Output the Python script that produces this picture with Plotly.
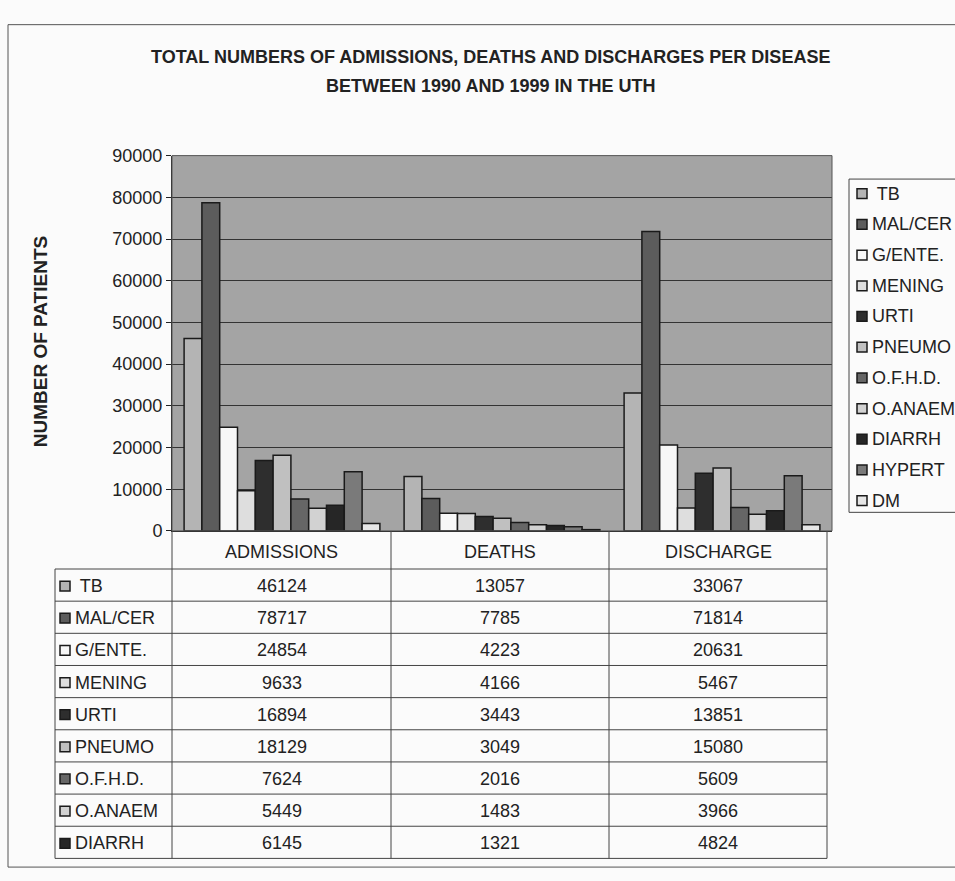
import plotly.graph_objects as go

categories = ["ADMISSIONS", "DEATHS", "DISCHARGE"]
diseases = ["TB", "MAL/CER", "G/ENTE.", "MENING", "URTI", "PNEUMO",
            "O.F.H.D.", "O.ANAEM", "DIARRH", "HYPERT", "DM"]
admissions = [46124, 78717, 24854, 9633, 16894, 18129, 7624, 5449, 6145, 14200, 1800]
deaths = [13057, 7785, 4223, 4166, 3443, 3049, 2016, 1483, 1321, 1000, 300]
discharge = [33067, 71814, 20631, 5467, 13851, 15080, 5609, 3966, 4824, 13200, 1500]
colors = ["#b4b4b4", "#5c5c5c", "#f7f7f7", "#dedede", "#2e2e2e", "#c0c0c0",
          "#666666", "#d2d2d2", "#262626", "#7a7a7a", "#e6e6e6"]
table_rows = 9  # rows visible in the data table

W, H = 955, 881
def px(x):
    return x / W
def py(y):
    return 1 - y / H

TXT = "#222"
fig = go.Figure()
for i, d in enumerate(diseases):
    fig.add_trace(go.Bar(
        x=categories, y=[admissions[i], deaths[i], discharge[i]], name=d,
        marker=dict(color=colors[i], line=dict(color="#1a1a1a", width=1.5)),
        showlegend=False,
    ))

shapes = []
annotations = []

frame = dict(color="#555", width=1)
shapes.append(dict(type="line", xref="paper", yref="paper", x0=px(8), x1=px(8), y0=py(15), y1=py(877), line=frame))
shapes.append(dict(type="line", xref="paper", yref="paper", x0=px(8), x1=1.1, y0=py(15), y1=py(15), line=frame))
shapes.append(dict(type="line", xref="paper", yref="paper", x0=px(8), x1=1.1, y0=py(877), y1=py(877), line=frame))

col_x = [172, 391, 609, 827]
lab_x0 = 55
head_top, head_bot = 533, 572
row_h = 32.9
line_style = dict(color="#444", width=1)
bottom = head_bot + table_rows * row_h
for cx in col_x:
    shapes.append(dict(type="line", xref="paper", yref="paper", x0=px(cx), x1=px(cx),
                       y0=py(head_top), y1=py(bottom), line=line_style))
shapes.append(dict(type="line", xref="paper", yref="paper", x0=px(lab_x0), x1=px(lab_x0),
                   y0=py(head_bot), y1=py(bottom), line=line_style))
for r in range(table_rows + 1):
    yy = head_bot + r * row_h
    shapes.append(dict(type="line", xref="paper", yref="paper", x0=px(lab_x0), x1=px(col_x[-1]),
                       y0=py(yy), y1=py(yy), line=line_style))

for j, c in enumerate(categories):
    annotations.append(dict(text=c, xref="paper", yref="paper",
                            x=px((col_x[j] + col_x[j + 1]) / 2), y=py((head_top + head_bot) / 2 + 2),
                            showarrow=False, font=dict(size=18, color=TXT),
                            xanchor="center", yanchor="middle"))

series = [admissions, deaths, discharge]
for r in range(table_rows):
    yc = head_bot + r * row_h + row_h / 2 + 1
    shapes.append(dict(type="rect", xref="paper", yref="paper", x0=px(60), x1=px(70),
                       y0=py(yc - 5), y1=py(yc + 5), fillcolor=colors[r],
                       line=dict(color="#1a1a1a", width=1.5)))
    annotations.append(dict(text=(" " if r == 0 else "") + diseases[r], xref="paper", yref="paper",
                            x=px(73), y=py(yc), showarrow=False,
                            font=dict(size=18, color=TXT), xanchor="left", yanchor="middle"))
    for j in range(3):
        annotations.append(dict(text=str(series[j][r]), xref="paper", yref="paper",
                                x=px((col_x[j] + col_x[j + 1]) / 2), y=py(yc), showarrow=False,
                                font=dict(size=18, color=TXT), xanchor="center", yanchor="middle"))

leg_top, leg_bot = 173, 514
shapes.append(dict(type="rect", xref="paper", yref="paper", x0=px(849), x1=1.1,
                   y0=py(leg_bot), y1=py(leg_top), line=dict(color="#444", width=1),
                   fillcolor="rgba(0,0,0,0)"))
leg_step = 31.4
for i, d in enumerate(diseases):
    yc = 188 + i * leg_step
    shapes.append(dict(type="rect", xref="paper", yref="paper", x0=px(857), x1=px(867),
                       y0=py(yc - 5), y1=py(yc + 5), fillcolor=colors[i],
                       line=dict(color="#1a1a1a", width=1.5)))
    annotations.append(dict(text=(" " if i == 0 else "") + d, xref="paper", yref="paper",
                            x=px(870), y=py(yc), showarrow=False,
                            font=dict(size=18, color=TXT), xanchor="left", yanchor="middle"))

TFONT = "Liberation Sans Narrow, Arial Narrow, Liberation Sans, Arial"
annotations.append(dict(text="<b>TOTAL NUMBERS OF ADMISSIONS, DEATHS AND DISCHARGES PER DISEASE</b>",
                        xref="paper", yref="paper", x=px(490), y=py(48), showarrow=False,
                        font=dict(size=18, color=TXT, family=TFONT),
                        xanchor="center", yanchor="middle"))
annotations.append(dict(text="<b>BETWEEN 1990 AND 1999 IN THE UTH</b>",
                        xref="paper", yref="paper", x=px(490), y=py(78), showarrow=False,
                        font=dict(size=18, color=TXT, family=TFONT),
                        xanchor="center", yanchor="middle"))
annotations.append(dict(text="<b>NUMBER OF PATIENTS</b>", xref="paper", yref="paper",
                        x=px(40), y=py(340), showarrow=False, textangle=-90,
                        font=dict(size=19, color=TXT), xanchor="center", yanchor="middle"))

fig.update_layout(
    width=W, height=H,
    margin=dict(l=0, r=0, t=0, b=0),
    paper_bgcolor="#fbfbfb",
    plot_bgcolor="#a4a4a4",
    font=dict(family="Liberation Sans, Arial, sans-serif", color=TXT, size=18),
    barmode="group",
    bargap=0.11,
    bargroupgap=0,
    showlegend=False,
    xaxis=dict(domain=[px(172), px(832)], showticklabels=False, ticks="",
               showline=True, linecolor="#222", linewidth=1),
    yaxis=dict(domain=[py(533), py(149)], range=[0, 90000], dtick=10000, tickformat="d",
               showgrid=True, gridcolor="#333", gridwidth=1,
               showline=True, linecolor="#222", linewidth=1,
               ticks="outside", ticklen=5, tickcolor="#222",
               tickfont=dict(size=18, color=TXT), zeroline=False),
    shapes=shapes,
    annotations=annotations,
)
fig.add_shape(type="rect", xref="paper", yref="paper", x0=px(172), x1=px(832), y0=py(533), y1=py(149),
              line=dict(color="#555", width=1), layer="above")

fig.write_html("out.html", post_script="document.body.style.margin='0';")
